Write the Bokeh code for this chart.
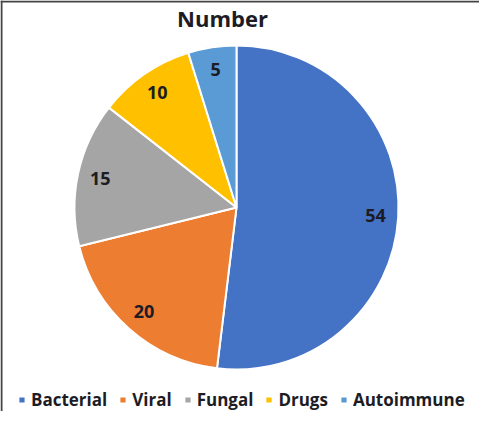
import math
from bokeh.plotting import figure
from bokeh.models import Range1d, Span, Legend, LegendItem, ColumnDataSource
from bokeh.core.properties import value
from bokeh.embed import file_html
from bokeh.resources import INLINE

categories = ["Bacterial", "Viral", "Fungal", "Drugs", "Autoimmune"]
counts = [54, 20, 15, 10, 5]
colors = ["#4472C4", "#ED7D31", "#A5A5A5", "#FFC000", "#5B9BD5"]
title_text = "Number"

W, H = 479, 411
FONT = "Open Sans"

p = figure(width=W, height=H, output_backend="svg", toolbar_location=None,
           x_range=Range1d(8, 8 + W), y_range=Range1d(427 - 8 - H, 419),
           min_border=0, outline_line_color=None, background_fill_color="white",
           border_fill_color="white")
p.xaxis.visible = False
p.yaxis.visible = False
p.grid.visible = False

cx, cy, r = 244, 427 - 215, 162
total = sum(counts)
starts, ends, lx, ly = [], [], [], []
cum = 0
for c in counts:
    a0 = math.pi / 2 - cum / total * 2 * math.pi
    cum += c
    a1 = math.pi / 2 - cum / total * 2 * math.pi
    starts.append(a0)
    ends.append(a1)
    mid = (a0 + a1) / 2
    lx.append(cx + 0.86 * r * math.cos(mid))
    ly.append(cy + 0.86 * r * math.sin(mid))

src = ColumnDataSource(dict(cat=categories, val=[str(v) for v in counts], color=colors,
                            start=starts, end=ends, lx=lx, ly=ly))

items = []
for i, cat in enumerate(categories):
    rr = p.wedge(x=cx, y=cy, radius=r, start_angle=starts[i], end_angle=ends[i],
                 direction="clock", fill_color=colors[i], line_color="white", line_width=2)
    items.append(LegendItem(label=cat, renderers=[rr]))

p.text(x="lx", y="ly", text="val", source=src, text_align="center", text_baseline="middle",
       text_font=value(FONT), text_font_style="bold", text_font_size="18px", text_color="#1c1c24")

p.text(x=[230], y=[427 - 25], text=[title_text], text_align="center", text_baseline="middle",
       text_font=value(FONT), text_font_style="bold", text_font_size="22px", text_color="#1c1c24")

legend = Legend(items=items, orientation="horizontal", location=(17, 0),
                label_text_font=FONT, label_text_font_style="bold", label_text_font_size="17px",
                label_text_color="#1c1c24", glyph_width=9, glyph_height=9, label_standoff=5,
                spacing=11, padding=0, margin=0, border_line_color=None,
                background_fill_alpha=0)
p.add_layout(legend, "center")

p.add_layout(Span(location=419 - 1, dimension="width", line_color="#444444", line_width=2))
p.add_layout(Span(location=9, dimension="height", line_color="#444444", line_width=2))

open("out.html", "w").write(file_html(p, INLINE))
